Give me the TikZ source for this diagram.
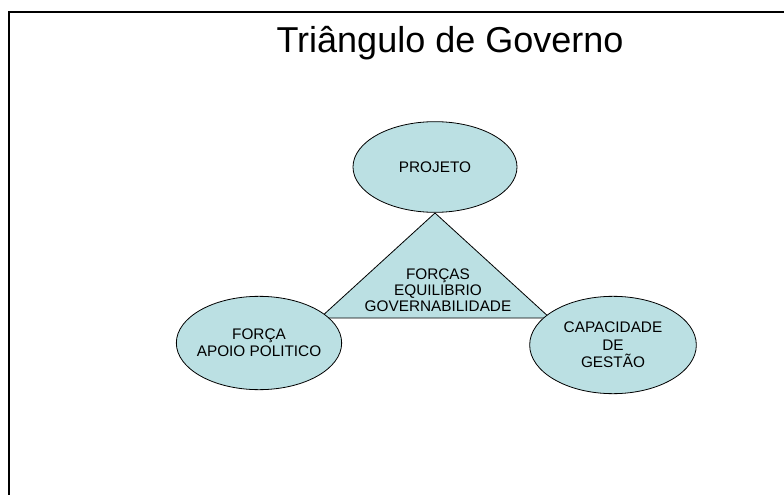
\documentclass[tikz,border=0pt]{standalone}
\usepackage{fontspec}
\setmainfont{Liberation Sans}
\usepackage{tikz}
\usetikzlibrary{shapes.geometric}

\definecolor{govfill}{RGB}{187,224,227}

\tikzset{
  govell/.style={ellipse, draw=black, line width=0.6pt, fill=govfill, inner sep=0pt,
    minimum width=124pt, minimum height=70pt, align=center,
    font=\fontsize{11.5}{13}\selectfont},
  govtext/.style={align=center, font=\fontsize{11.5}{12}\selectfont}
}

\begin{document}
\begin{tikzpicture}[x=0.75pt,y=0.75pt,yscale=-1,xscale=1]
		\useasboundingbox (0,0) rectangle (784,495);
		
		%Frame
		\draw [line width=1.5pt] (9,495) -- (9,12) -- (784,12) ;
		
		% Title
		\node (title) at (450,43) {\fontsize{27}{32}\selectfont Triângulo de Governo};
		
		%Shape: Triangle
		\coordinate (top) at (435,213) ;
		\coordinate (left) at (320,318) ;
		\coordinate (right) at (550,318) ;
		\draw [fill=govfill, line width=0.6pt] (top) -- (left) -- (right) -- cycle ;
		
		%Shape: Ellipses
		\node [govell, minimum width=123pt, minimum height=68pt] (projeto) at (435,167) {PROJETO};
		\node [govell, inner xsep=-3pt] (forca) at (259,343) {FORÇA\\APOIO POLITICO};
		\node [govell, minimum width=125pt, minimum height=73pt] (gestao) at (613,345) {CAPACIDADE\\DE\\GESTÃO};
		
		% Text Node
		\node [govtext] (forcas) at (438,290) {FORÇAS\\EQUILIBRIO\\GOVERNABILIDADE};
		
\end{tikzpicture}
\end{document}
